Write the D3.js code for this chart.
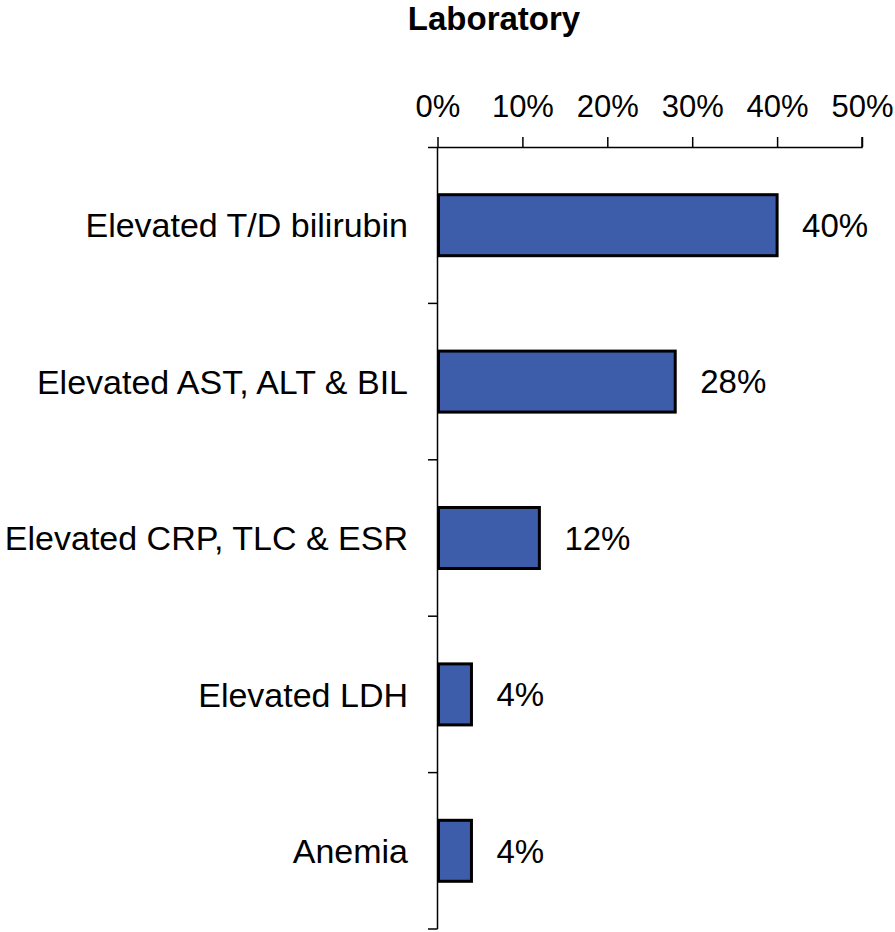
<!DOCTYPE html>
<html><head><meta charset="utf-8">
<script src="https://cdn.jsdelivr.net/npm/d3@7"></script>
<style>
body{margin:0;background:#fff;}
text{font-family:Arial,"Liberation Sans",Helvetica,sans-serif;fill:#000;}
</style></head>
<body>
<svg id="chart" width="895" height="932"></svg>
<script>
const title = "Laboratory";
const categories = ["Elevated T/D bilirubin","Elevated AST, ALT & BIL","Elevated CRP, TLC & ESR","Elevated LDH","Anemia"];
const values = [0.40, 0.28, 0.12, 0.04, 0.04];
const tickValues = [0, 0.1, 0.2, 0.3, 0.4, 0.5];

const svg = d3.select("#chart");
const x = d3.scaleLinear().domain([0, 0.5]).range([437.5, 862]);
const y = d3.scaleBand().domain(categories).range([147, 929]);
const fmt = d3.format(".0%");

svg.append("text").attr("x", 494).attr("y", 30).attr("text-anchor","middle")
  .style("font-size","33px").style("font-weight","bold").text(title);

// top axis
const xa = svg.append("g").attr("transform","translate(0,147)")
  .call(d3.axisTop(x).tickValues(tickValues).tickFormat(fmt).tickSize(10).tickPadding(20));
xa.select(".domain").attr("d", `M428,0.5H${x(0.5)}V-10`).attr("stroke","#000").attr("stroke-width",1.5);
xa.selectAll(".tick line").attr("stroke","#000").attr("stroke-width",1.5);
xa.selectAll(".tick text").style("font-size","31px").style("font-family","Arial,'Liberation Sans',sans-serif").attr("fill","#000");

// left axis with ticks at band boundaries
const bounds = categories.map(c => y(c) + y.step());
const ya = svg.append("g");
ya.append("line").attr("x1",437.5).attr("x2",437.5).attr("y1",147).attr("y2",929)
  .attr("stroke","#000").attr("stroke-width",1.5);
ya.selectAll("line.t").data(bounds).join("line").attr("class","t")
  .attr("x1",428).attr("x2",437.5).attr("y1",d=>d).attr("y2",d=>d)
  .attr("stroke","#000").attr("stroke-width",1.5);

// category labels
svg.selectAll("text.cat").data(categories).join("text").attr("class","cat")
  .attr("x",408).attr("y",c=>y(c)+y.bandwidth()/2).attr("dy","0.36em")
  .attr("text-anchor","end").style("font-size","34px").text(c=>c);

// bars
const barH = 61;
svg.selectAll("rect.bar").data(values).join("rect").attr("class","bar")
  .attr("x", x(0)+1).attr("y",(d,i)=>y(categories[i])+y.bandwidth()/2-barH/2)
  .attr("width",d=>x(d)-x(0)-1).attr("height",barH)
  .attr("fill","#3D5CAA").attr("stroke","#000").attr("stroke-width",3);

// value labels
svg.selectAll("text.val").data(values).join("text").attr("class","val")
  .attr("x",d=>x(d)+25).attr("y",(d,i)=>y(categories[i])+y.bandwidth()/2).attr("dy","0.36em")
  .style("font-size","33px").text(d=>fmt(d));
</script>
</body></html>
